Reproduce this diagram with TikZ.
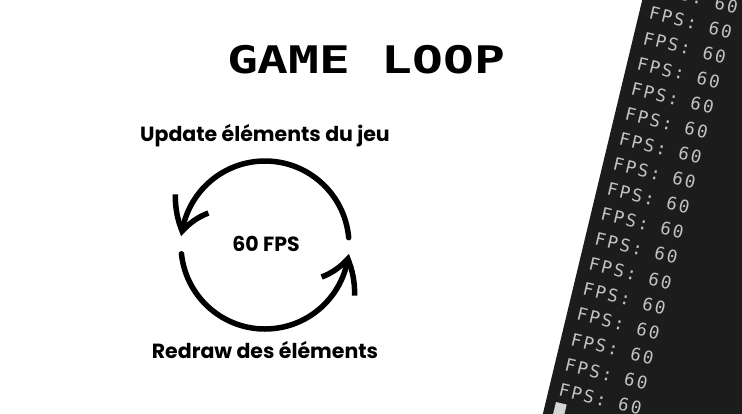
\documentclass[tikz,border=0pt]{standalone}
\usepackage{fontspec}
\usetikzlibrary{arrows.meta,bending}

\newfontfamily\popfont{Poppins}
\newfontfamily\monofont{DejaVu Sans Mono}
\newfontfamily\termfont{DejaVu Sans Mono}[LetterSpace=12]

\definecolor{termbg}{HTML}{1C1C1C}
\definecolor{termtxt}{HTML}{C2C2C2}
\definecolor{cursorgray}{HTML}{D4D4D4}

\tikzset{
  looptext/.style={anchor=base, inner sep=0pt, font=\popfont\bfseries\fontsize{20.5}{20.5}\selectfont},
  looparrow/.style={line width=5.5pt, line cap=round, line join=round,
    -{Straight Barb[length=30pt,width=38pt,bend]}},
  fpsline/.style={anchor=base west, inner sep=0pt, text=termtxt,
    font=\termfont\fontsize{17.5}{17.5}\selectfont}
}

\begin{document}
\begin{tikzpicture}[x=1pt,y=1pt]
    \useasboundingbox (0,0) rectangle (742,-413);
    \clip (0,0) rectangle (742,-413);

    % Title
    \node[anchor=base, inner sep=0pt] (title) at (366,-73)
      {\scalebox{1.35}[1]{\monofont\bfseries\fontsize{38}{38}\selectfont GAME LOOP}};

    % Loop labels
    \node[looptext] (update) at (265,-141) {Update éléments du jeu};
    \node[looptext] (fps) at (266,-251) {60 FPS};
    \node[looptext] (redraw) at (265,-358) {Redraw des éléments};

    % Loop arrows
    \coordinate (C) at (265,-245);
    \draw[looparrow] (C) ++(5:84) arc (5:174:84);
    \draw[looparrow] (C) ++(186:84) arc (186:354:84);

    % Terminal
    \begin{scope}[shift={(556,-402)}, rotate=-13.5, transform shape]
      \fill[termbg] (-10,-100) rectangle (400,600);
      \foreach \k in {1,...,18} {
        \node[fpsline] (fps\k) at (0,{7+25.8*(\k-1)}) {FPS: 60};
      }
      \fill[cursorgray] (0,0) rectangle (11,-18);
    \end{scope}

\end{tikzpicture}
\end{document}
